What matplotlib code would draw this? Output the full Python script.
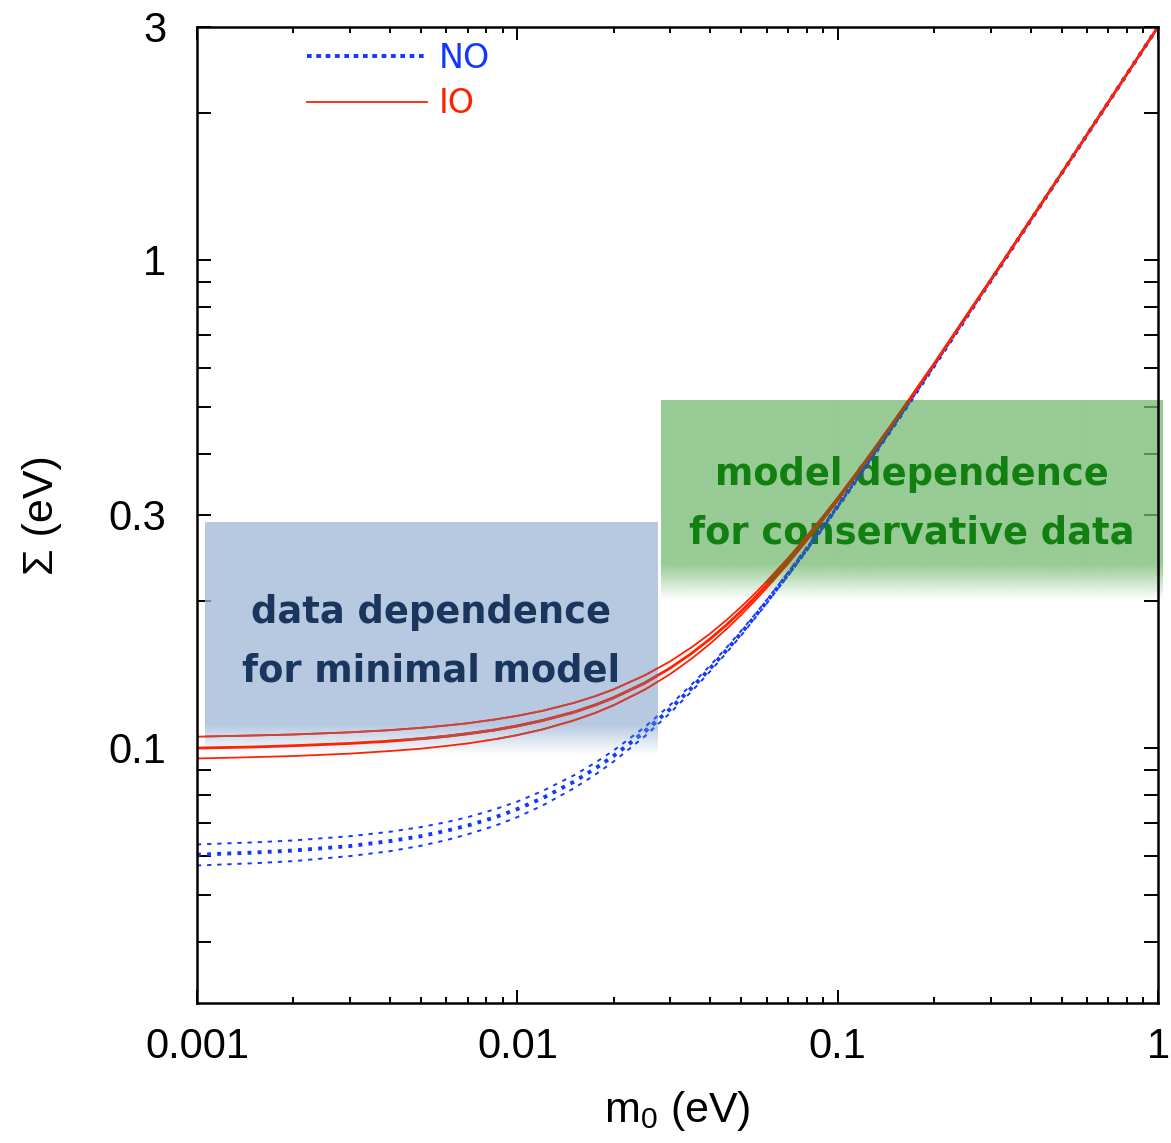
"""
Sum of neutrino masses vs lightest mass m0 (NO / IO bands)
with the two shaded annotation boxes.
"""
import numpy as np
import matplotlib
matplotlib.use('Agg')
import matplotlib.pyplot as plt
from matplotlib.lines import Line2D
from matplotlib.patches import Rectangle

# ---- data ----
m0 = [0.001, 0.0015, 0.002, 0.003, 0.004, 0.005, 0.006, 0.007, 0.0085, 0.01,
      0.012, 0.015, 0.0175, 0.02, 0.025, 0.03, 0.035, 0.04, 0.045, 0.05,
      0.055, 0.06, 0.07, 0.08, 0.09, 0.1, 0.12, 0.15, 0.2, 0.3,
      0.5, 0.7, 1.0]

sum_no_high = [0.0634, 0.0640, 0.0646, 0.0659, 0.0673, 0.0688, 0.0704, 0.0721, 0.0748, 0.0776,
               0.0816, 0.0878, 0.0932, 0.0988, 0.1103, 0.1224, 0.1348, 0.1475, 0.1605, 0.1738,
               0.1872, 0.2008, 0.2285, 0.2566, 0.2850, 0.3136, 0.3716, 0.4594, 0.6071, 0.9048,
               1.5029, 2.1021, 3.0015]
sum_no_mid = [0.0604, 0.0610, 0.0616, 0.0629, 0.0644, 0.0659, 0.0676, 0.0693, 0.0720, 0.0749,
              0.0789, 0.0852, 0.0907, 0.0963, 0.1080, 0.1201, 0.1327, 0.1455, 0.1586, 0.1719,
              0.1855, 0.1992, 0.2270, 0.2552, 0.2837, 0.3125, 0.3706, 0.4586, 0.6065, 0.9044,
              1.5026, 2.1019, 3.0013]
sum_no_low = [0.0574, 0.0580, 0.0586, 0.0600, 0.0614, 0.0630, 0.0647, 0.0665, 0.0692, 0.0721,
              0.0762, 0.0826, 0.0881, 0.0938, 0.1056, 0.1179, 0.1305, 0.1435, 0.1567, 0.1701,
              0.1838, 0.1975, 0.2255, 0.2538, 0.2825, 0.3114, 0.3696, 0.4578, 0.6059, 0.9040,
              1.5024, 2.1017, 3.0012]

sum_io_high = [0.1054, 0.1060, 0.1065, 0.1076, 0.1087, 0.1099, 0.1111, 0.1123, 0.1143, 0.1163,
               0.1191, 0.1236, 0.1276, 0.1318, 0.1408, 0.1504, 0.1607, 0.1715, 0.1828, 0.1946,
               0.2067, 0.2191, 0.2446, 0.2711, 0.2981, 0.3256, 0.3817, 0.4677, 0.6134, 0.9090,
               1.5054, 2.1039, 3.0027]
sum_io_mid = [0.0999, 0.1004, 0.1010, 0.1021, 0.1032, 0.1044, 0.1056, 0.1069, 0.1088, 0.1109,
              0.1138, 0.1183, 0.1224, 0.1267, 0.1358, 0.1457, 0.1562, 0.1672, 0.1787, 0.1906,
              0.2029, 0.2155, 0.2414, 0.2681, 0.2954, 0.3231, 0.3796, 0.4659, 0.6120, 0.9081,
              1.5049, 2.1035, 3.0024]
sum_io_low = [0.0951, 0.0957, 0.0962, 0.0973, 0.0985, 0.0996, 0.1009, 0.1021, 0.1041, 0.1062,
              0.1091, 0.1138, 0.1179, 0.1223, 0.1316, 0.1416, 0.1523, 0.1635, 0.1752, 0.1873,
              0.1998, 0.2125, 0.2387, 0.2656, 0.2931, 0.3210, 0.3778, 0.4644, 0.6109, 0.9073,
              1.5044, 2.1032, 3.0022]

x_ticks = [0.001, 0.01, 0.1, 1]
x_tick_labels = ['0.001', '0.01', '0.1', '1']
y_ticks = [0.1, 0.3, 1, 3]
y_tick_labels = ['0.1', '0.3', '1', '3']
y_minor = [0.04, 0.05, 0.06, 0.07, 0.08, 0.09, 0.2, 0.4, 0.5, 0.6, 0.7, 0.8, 0.9, 2]

# annotation boxes: (m0 left, m0 right), (sigma bottom, sigma top), sigma where fade starts
box_min_x, box_min_y, box_min_fade = (0.00106, 0.0275), (0.0967, 0.290), 0.1114
box_mod_x, box_mod_y, box_mod_fade = (0.0281, 1.037), (0.2008, 0.514), 0.237
text_min = 'data dependence\nfor minimal model'
text_mod = 'model dependence\nfor conservative data'
text_min_pos = (0.00538, 0.1650)
text_mod_pos = (0.1707, 0.3165)

BLUE = '#1238ff'
RED = '#ff2200'
# line colours as they look through each box
TINT_MIN = {'no': '#3363e6', 'io': '#c4463e'}
TINT_MOD = {'no': '#2459a8', 'io': '#9a4e12'}

plt.rcParams['font.family'] = ['Liberation Sans', 'DejaVu Sans']
plt.rcParams['mathtext.default'] = 'regular'

fig = plt.figure(figsize=(11.71, 11.43), dpi=100)
ax = fig.add_axes([197 / 1171, 1 - 1003 / 1143, 961 / 1171, 976 / 1143])
ax.set_xscale('log')
ax.set_yscale('log')
ax.set_xlim(0.001, 1)
ax.set_ylim(0.03, 3)
ax.set_autoscale_on(False)

to_axes = ax.transData + ax.transAxes.inverted()


def draw_bands(no_color, io_color, clip=None, z=4):
    arts = []
    arts += ax.plot(m0, sum_no_high, color=no_color, lw=1.4, dashes=(2.2, 3.0), zorder=z)
    arts += ax.plot(m0, sum_no_low, color=no_color, lw=1.4, dashes=(2.2, 3.0), zorder=z)
    arts += ax.plot(m0, sum_no_mid, color=no_color, lw=2.8, dashes=(1.0, 1.6), zorder=z)
    arts += ax.plot(m0, sum_io_high, color=io_color, lw=1.3, zorder=z)
    arts += ax.plot(m0, sum_io_low, color=io_color, lw=1.3, zorder=z)
    arts += ax.plot(m0, sum_io_mid, color=io_color, lw=2.0, zorder=z)
    if clip is not None:
        for a in arts:
            a.set_clip_path(clip)


def fade_box(xr, yr, y_fade, rgb, alpha):
    (x0, y0), (x1, y1) = to_axes.transform([(xr[0], yr[0]), (xr[1], yr[1])])
    yf = to_axes.transform([(xr[0], y_fade)])[0][1]
    n = 300
    pos = np.linspace(y1, y0, n)  # top -> bottom, axes fraction
    a = np.where(pos >= yf, alpha, alpha * (pos - y0) / (yf - y0))
    img = np.zeros((n, 2, 4))
    img[..., :3] = matplotlib.colors.to_rgb(rgb)
    img[..., 3] = a[:, None]
    ax.imshow(img, extent=(x0, x1, y0, y1), transform=ax.transAxes,
              aspect='auto', interpolation='bilinear', zorder=2, clip_on=False)
    # region where the lines take the box tint
    ym = 0.5 * (y0 + yf)
    return Rectangle((x0, ym), x1 - x0, y1 - ym, transform=ax.transAxes,
                     facecolor='none', edgecolor='none')


clip_min = fade_box(box_min_x, box_min_y, box_min_fade, '#9fb8d8', 0.75)
clip_mod = fade_box(box_mod_x, box_mod_y, box_mod_fade, '#76ba72', 0.75)

ax.text(*text_min_pos, text_min, ha='center', va='center',
        fontsize=26.5, fontweight='bold', color='#1b365d', family='DejaVu Sans',
        linespacing=1.72, zorder=3)
ax.text(*text_mod_pos, text_mod, ha='center', va='center',
        fontsize=26.5, fontweight='bold', color='#118011', family='DejaVu Sans',
        linespacing=1.75, zorder=3)

# NO band (dotted) and IO band (solid), tinted inside the boxes
draw_bands(BLUE, RED)
draw_bands(TINT_MIN['no'], TINT_MIN['io'], clip=clip_min, z=4.1)
draw_bands(TINT_MOD['no'], TINT_MOD['io'], clip=clip_mod, z=4.1)

# ---- axes styling ----
ax.set_xticks(x_ticks)
ax.set_xticklabels(x_tick_labels)
ax.set_yticks(y_ticks)
ax.set_yticklabels(y_tick_labels)
ax.set_yticks(y_minor, minor=True)
ax.yaxis.set_minor_formatter(matplotlib.ticker.NullFormatter())
ax.xaxis.set_minor_locator(matplotlib.ticker.LogLocator(base=10, subs=np.arange(2, 10)))
ax.xaxis.set_minor_formatter(matplotlib.ticker.NullFormatter())

ax.tick_params(which='both', direction='in', top=True, right=True, width=1.4, labelsize=30)
ax.tick_params(axis='x', which='major', length=9.5, pad=17)
ax.tick_params(axis='x', which='minor', length=4.5)
ax.tick_params(axis='y', which='both', length=10, pad=22)
for s in ax.spines.values():
    s.set_linewidth(1.8)
    s.set_zorder(5)

ax.set_xlabel('m$_0$ (eV)', fontsize=31)
ax.set_ylabel('Σ (eV)', fontsize=31)
ax.xaxis.set_label_coords(0.5, -0.088)
ax.yaxis.set_label_coords(-0.14, 0.5)

handles = [Line2D([], [], color=BLUE, lw=2.8, dashes=(1.2, 1.2)),
           Line2D([], [], color=RED, lw=1.3)]
ax.legend(handles, ['NO', 'IO'], loc='upper left', bbox_to_anchor=(0.1145, 0.985),
          frameon=False, handlelength=3.6, handletextpad=0.35,
          labelspacing=0.38, borderpad=0, borderaxespad=0,
          labelcolor=[BLUE, RED], prop={'family': 'DejaVu Sans', 'size': 24})

fig.savefig('out.png', dpi=100, facecolor='white')
